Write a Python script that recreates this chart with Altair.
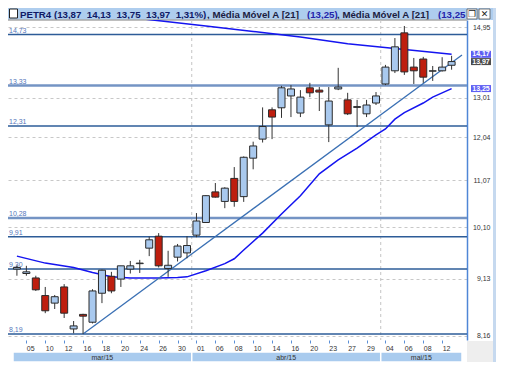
import altair as alt
import pandas as pd

# ---------------- data ----------------
tick_labels = ["05", "10", "12", "16", "18", "20", "24", "26", "30", "01", "06", "08",
               "10", "14", "16", "20", "23", "27", "29", "04", "06", "08", "12"]
tick_idx = list(range(1, 47, 2))

opens = [9.30, 9.22, 9.14, 8.83, 8.70, 8.98, 8.27, 8.51, 8.38, 8.87,
         9.17, 9.12, 9.30, 9.40, 9.69, 9.92, 9.31, 9.52, 9.60, 9.94,
         10.19, 10.82, 10.62, 11.11, 10.72, 11.56, 12.00, 12.71, 12.76, 13.06,
         12.63, 13.27, 13.21, 12.34, 13.24, 12.96, 12.77, 12.61, 12.88, 13.37,
         13.72, 14.78, 13.82, 14.04, 13.71, 13.72, 13.87]
highs = [9.37, 9.36, 9.18, 8.98, 8.84, 9.03, 8.40, 8.52, 8.94, 9.29,
         9.25, 9.36, 9.45, 9.47, 9.91, 9.98, 9.64, 9.77, 9.92, 10.38,
         10.75, 11.01, 10.92, 11.36, 11.60, 11.94, 12.77, 12.77, 13.32, 13.34,
         13.21, 13.40, 13.29, 13.29, 13.80, 13.14, 12.96, 12.96, 13.16, 13.88,
         14.63, 14.98, 14.07, 14.10, 13.85, 14.09, 14.13]
lows = [9.18, 9.18, 8.91, 8.53, 8.60, 8.45, 8.20, 8.19, 8.36, 8.70,
        8.87, 8.98, 9.22, 9.23, 9.54, 9.33, 9.16, 9.44, 9.50, 9.90,
        10.18, 10.70, 10.48, 10.51, 10.61, 11.31, 11.92, 12.00, 12.51, 12.53,
        12.53, 13.03, 12.68, 11.93, 13.21, 12.58, 12.29, 12.53, 12.83, 13.34,
        13.66, 13.61, 13.37, 13.40, 13.45, 13.70, 13.75]
closes = [9.33, 9.25, 8.93, 8.57, 8.81, 8.53, 8.32, 8.48, 8.91, 9.28,
          8.91, 9.36, 9.36, 9.41, 9.85, 9.36, 9.37, 9.73, 9.74, 10.22,
          10.74, 10.71, 10.90, 10.62, 11.58, 11.84, 12.30, 12.53, 13.27, 13.24,
          13.03, 13.14, 13.16, 12.93, 13.29, 12.61, 12.79, 12.83, 13.06, 13.82,
          14.38, 13.69, 13.72, 13.55, 13.72, 13.82, 13.97]

# moving averages (index, value)
ma_long_idx = [13, 20, 25, 30, 35, 40, 46]
ma_long_val = [15.20, 14.98, 14.82, 14.66, 14.47, 14.33, 14.17]
ma21_idx = [0, 3, 6, 8, 10, 12, 15, 17, 18, 20, 22, 23, 24, 26, 28, 30, 32, 34,
            36, 38, 39, 40, 41, 43, 44, 46]
ma21_val = [9.54, 9.41, 9.33, 9.24, 9.16, 9.14, 9.14, 9.15, 9.16, 9.27, 9.40, 9.49,
            9.655, 9.98, 10.36, 10.74, 11.21, 11.52, 11.79, 12.10, 12.24, 12.48,
            12.64, 12.88, 13.03, 13.25]

# trend line
trend_idx = [7, 47.1]
trend_val = [8.19, 14.15]

# horizontal levels
levels_thin = [14.73, 12.31, 9.91, 9.30, 8.19]
levels_thick = [13.33, 10.28]

# y axis ticks
y_ticks = [14.95, 13.01, 12.04, 11.07, 10.10, 9.13, 8.16]

# price tags
tag_vals = [14.17, 13.97, 13.25]
tag_kind = ["ma", "last", "ma"]

# months
months = ["mar/15", "abr/15", "mai/15"]
month_bounds = [-0.414, 18.5, 38.5, 47.1]

NB = "\u00a0"
title_parts = ["PETR4 (13,87 " + NB + "14,13 " + NB + "13,75 " + NB + "13,97 " + NB + "1,31%)",
               ", Média Móvel A [21]", "(13,25)", ", Média Móvel A [21]", "(13,25"]

# ---------------- build ----------------
FONT = "Liberation Sans"
XMIN, XMAX = -0.414, 47.1
xscale = alt.Scale(domain=[XMIN, XMAX], nice=False, zero=False)
yscale = alt.Scale(type="log", domain=[8.093, 15.157], nice=False)

candles = pd.DataFrame({"i": list(range(len(opens))), "open": opens, "high": highs,
                        "low": lows, "close": closes})

one = pd.DataFrame({"a": [0]})


def fmt(v):
    return f"{v:.2f}".replace(".", ",")


label_arr = "[" + ",".join(f"'{s}'" for s in tick_labels) + "]"

x_axis = alt.Axis(values=tick_idx, labelExpr=label_arr + "[round((datum.value-1)/2)]",
                  grid=False, domain=False, ticks=True, tickColor="#5b8fd6", tickSize=3,
                  labelFontSize=7, labelColor="#333333", labelFont=FONT, labelAlign="left",
                  labelPadding=1, labelFlush=False, labelOverlap=False, title=None)
y_axis = alt.Axis(orient="right", values=y_ticks,
                  labelExpr="replace(format(datum.value, '.2f'), '.', ',')",
                  grid=True, gridDash=[3, 3], gridColor="#c8c8c8", gridWidth=1,
                  domain=True, domainColor="#4f86d6", domainWidth=1.5,
                  ticks=False, tickSize=0, labelPadding=23, labelAlign="right",
                  labelFontSize=7, labelFont=FONT, labelColor="#333333",
                  labelFlush=False, labelOverlap=False, title=None)


def X(field):
    return alt.X(field, scale=xscale, axis=x_axis)


def Y(field):
    return alt.Y(field, scale=yscale, axis=y_axis)


layers = []

# title bar background
layers.append(alt.Chart(one).mark_rect(color="#aecdee").encode(
    x=alt.value(0), x2=alt.value(487), y=alt.value(-12), y2=alt.value(0)))
# checkbox
layers.append(alt.Chart(one).mark_rect(fill="white", stroke="#222222", strokeWidth=1).encode(
    x=alt.value(1.5), x2=alt.value(9.5), y=alt.value(-11), y2=alt.value(-2)))
# title text parts
title_x = [12, 199, 299, 329, 430]
title_col = ["#101a66", "#1c1c40", "#2424aa", "#1c1c40", "#2424aa"]
for txt, px, col in zip(title_parts, title_x, title_col):
    layers.append(alt.Chart(one).mark_text(text=txt, align="left", baseline="alphabetic",
                                           font=FONT, fontSize=9.7, fontWeight="bold",
                                           color=col).encode(
        x=alt.value(px), y=alt.value(-2.5)))
# window icons
layers.append(alt.Chart(one).mark_rect(fill="white", stroke="#555555", strokeWidth=0.8).encode(
    x=alt.value(459), x2=alt.value(469), y=alt.value(-11), y2=alt.value(-1)))
layers.append(alt.Chart(one).mark_rect(fill="white", stroke="#555555", strokeWidth=0.8).encode(
    x=alt.value(471), x2=alt.value(482), y=alt.value(-11), y2=alt.value(-1)))
layers.append(alt.Chart(one).mark_text(text="❐", font="DejaVu Sans", fontSize=9,
                                       color="#222222").encode(
    x=alt.value(464), y=alt.value(-6)))
layers.append(alt.Chart(one).mark_text(text="✕", font="DejaVu Sans", fontSize=9,
                                       color="#222222").encode(
    x=alt.value(476.5), y=alt.value(-6)))

# right frame strip and bottom-right grey area
layers.append(alt.Chart(one).mark_rect(color="#eeeeee").encode(
    x=alt.value(459), x2=alt.value(485), y=alt.value(321), y2=alt.value(343)))
layers.append(alt.Chart(one).mark_rect(color="#c6d9ef").encode(
    x=alt.value(485), x2=alt.value(488), y=alt.value(-12), y2=alt.value(343)))
# top border of plot
layers.append(alt.Chart(one).mark_rule(color="#a8a8a8", strokeWidth=1.5).encode(
    x=alt.value(0), x2=alt.value(459), y=alt.value(0)))

# axes + grid (invisible layer hosting axes)
layers.append(alt.Chart(candles).mark_rule(opacity=0).encode(
    x=X("i:Q"), y=Y("low:Q"), y2="high:Q"))

# month separators
sep = pd.DataFrame({"i": month_bounds[1:3]})
layers.append(alt.Chart(sep).mark_rule(color="#c4c4c4", strokeDash=[3, 3]).encode(
    x=X("i:Q")))

# month bands
mdf = pd.DataFrame({"m": months, "i": month_bounds[:-1], "e": month_bounds[1:]})
mdf["mid"] = (mdf["i"] + mdf["e"]) / 2
layers.append(alt.Chart(mdf).mark_rect(color="#a9cbee", stroke="white", strokeWidth=1.5).encode(
    x=X("i:Q"), x2="e:Q", y=alt.value(332), y2=alt.value(342)))
layers.append(alt.Chart(mdf).mark_text(font=FONT, fontSize=7, color="#333333").encode(
    x=X("mid:Q"), y=alt.value(337.5), text="m:N"))

# horizontal levels
lt = pd.DataFrame({"v": levels_thin})
lk = pd.DataFrame({"v": levels_thick})
layers.append(alt.Chart(lt).mark_rule(color="#2d5c98", strokeWidth=1.5).encode(y=Y("v:Q")))
layers.append(alt.Chart(lk).mark_rule(color="#7494c4", strokeWidth=2.5).encode(y=Y("v:Q")))
lall = pd.DataFrame({"v": levels_thin + levels_thick})
lall["t"] = lall["v"].map(fmt)
layers.append(alt.Chart(lall).mark_text(font=FONT, fontSize=7, color="#5577bb", align="left",
                                        baseline="bottom", dy=-1).encode(
    x=alt.value(1), y=Y("v:Q"), text="t:N"))

# moving averages
mal = pd.DataFrame({"i": ma_long_idx, "v": ma_long_val})
ma21 = pd.DataFrame({"i": ma21_idx, "v": ma21_val})
layers.append(alt.Chart(mal).mark_line(color="#1414f0", strokeWidth=1.5, clip=True).encode(
    x=X("i:Q"), y=Y("v:Q")))
layers.append(alt.Chart(ma21).mark_line(color="#1414f0", strokeWidth=1.5, clip=True).encode(
    x=X("i:Q"), y=Y("v:Q")))

# trend line
tr = pd.DataFrame({"i": trend_idx, "v": trend_val})
layers.append(alt.Chart(tr).mark_line(color="#3a70b4", strokeWidth=1.3, clip=True).encode(
    x=X("i:Q"), y=Y("v:Q")))

# candles
layers.append(alt.Chart(candles).mark_rule(color="#333333", strokeWidth=1).encode(
    x=X("i:Q"), y=Y("low:Q"), y2="high:Q"))
layers.append(alt.Chart(candles).mark_bar(width=7, stroke="#2a2a2a", strokeWidth=1).encode(
    x=X("i:Q"), y=Y("open:Q"), y2="close:Q",
    fill=alt.condition("datum.close >= datum.open", alt.value("#a9c9ee"), alt.value("#be1e0e"))))

# price tags
tg = pd.DataFrame({"v": tag_vals, "k": tag_kind})
tg["t"] = tg["v"].map(fmt)
layers.append(alt.Chart(tg).mark_tick(orient="horizontal", thickness=7, size=20).encode(
    x=alt.value(473), y=Y("v:Q"),
    color=alt.Color("k:N", scale=alt.Scale(domain=["ma", "last"], range=["#1a1aee", "#000000"]),
                    legend=None)))
layers.append(alt.Chart(tg).mark_text(font=FONT, fontSize=7, color="white", fontWeight="bold").encode(
    x=alt.value(473), y=Y("v:Q"), text="t:N"))

chart = alt.layer(*layers).properties(
    width=459, height=320,
    autosize=alt.AutoSizeParams(type="none"),
    padding={"left": 0, "top": 12, "right": 41, "bottom": 22},
).configure_view(stroke=None)

chart.save("out.html", embed_options={"renderer": "svg", "actions": False})
